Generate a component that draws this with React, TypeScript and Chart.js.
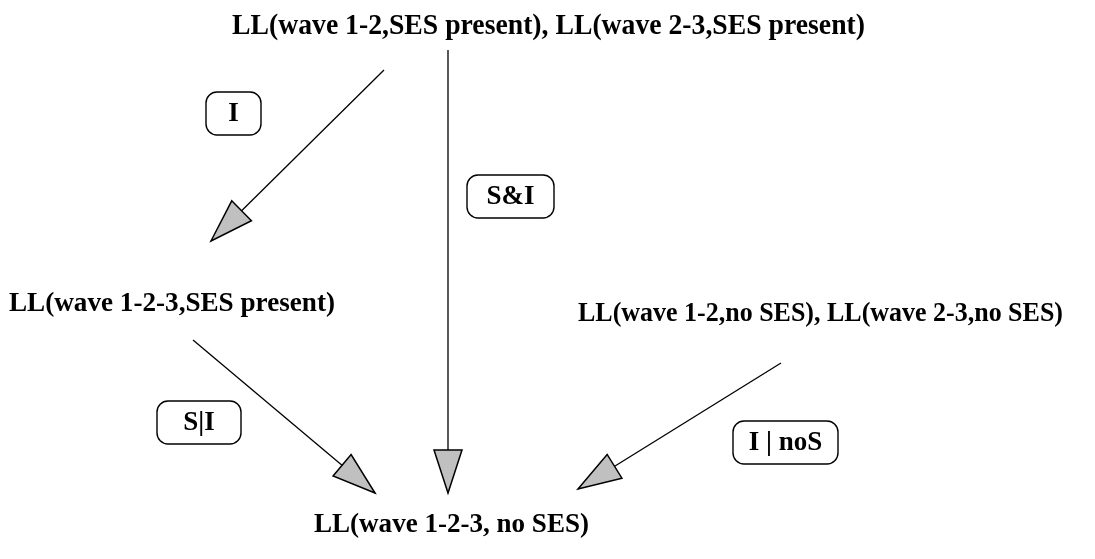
import { useEffect, useRef } from 'react';
import { Chart, registerables } from 'chart.js';

Chart.register(...registerables);

// Node (state) labels: left edge x, baseline y, fitted width
const nodeLabels = [
  'LL(wave 1-2,SES present), LL(wave 2-3,SES present)',
  'LL(wave 1-2-3,SES present)',
  'LL(wave 1-2,no SES), LL(wave 2-3,no SES)',
  'LL(wave 1-2-3, no SES)',
];
const nodeX = [232, 9, 578, 314];
const nodeY = [34, 311, 321, 532];
const nodeW = [633, 326, 485, 275];

// Edges (arrows): start and tip
const edgeStartX = [384, 448, 193, 781];
const edgeStartY = [70, 50, 340, 363];
const edgeEndX = [211, 448, 375, 578];
const edgeEndY = [241, 493, 493, 489];

// Edge test labels: box centre and width
const edgeLabels = ['I', 'S&I', 'S|I', 'I | noS'];
const labelX = [233.5, 510.5, 199, 785.5];
const labelY = [113.5, 196.5, 422.5, 442.5];
const labelW = [55, 87, 84, 105];

const FONT = 'bold 27px "Liberation Serif", "Times New Roman", serif';
const NODE_FONT = 'bold 28px "Liberation Serif", "Times New Roman", serif';
const TOP_FONT = 'bold 30px "Liberation Serif", "Times New Roman", serif';

const diagramPlugin = {
  id: 'diagram',
  afterDatasetsDraw(chart: any) {
    const { ctx } = chart;
    const xs = chart.scales.x;
    const ys = chart.scales.y;
    ctx.save();
    // arrowheads
    for (let i = 0; i < edgeEndX.length; i++) {
      const sx = xs.getPixelForValue(edgeStartX[i]);
      const sy = ys.getPixelForValue(edgeStartY[i]);
      const tx = xs.getPixelForValue(edgeEndX[i]);
      const ty = ys.getPixelForValue(edgeEndY[i]);
      const len = Math.hypot(tx - sx, ty - sy);
      const ux = (tx - sx) / len;
      const uy = (ty - sy) / len;
      const hl = 43;
      const hw = 14;
      const bx = tx - ux * hl;
      const by = ty - uy * hl;
      ctx.beginPath();
      ctx.moveTo(tx, ty);
      ctx.lineTo(bx - uy * hw, by + ux * hw);
      ctx.lineTo(bx + uy * hw, by - ux * hw);
      ctx.closePath();
      ctx.fillStyle = '#c0c0c0';
      ctx.fill();
      ctx.lineWidth = 1.5;
      ctx.strokeStyle = '#000';
      ctx.lineJoin = 'miter';
      ctx.stroke();
    }
    // label boxes
    ctx.font = FONT;
    ctx.textAlign = 'center';
    ctx.textBaseline = 'middle';
    for (let i = 0; i < edgeLabels.length; i++) {
      const cx = xs.getPixelForValue(labelX[i]);
      const cy = ys.getPixelForValue(labelY[i]);
      const w = labelW[i];
      const h = 43;
      ctx.beginPath();
      ctx.roundRect(cx - w / 2, cy - h / 2, w, h, 11);
      ctx.fillStyle = '#fff';
      ctx.fill();
      ctx.lineWidth = 1.4;
      ctx.strokeStyle = '#000';
      ctx.stroke();
      ctx.fillStyle = '#000';
      ctx.fillText(edgeLabels[i], cx, cy + 1);
    }
    // node labels
    ctx.textAlign = 'left';
    ctx.textBaseline = 'alphabetic';
    for (let i = 0; i < nodeLabels.length; i++) {
      ctx.font = i === 0 ? TOP_FONT : NODE_FONT;
      ctx.fillText(
        nodeLabels[i],
        xs.getPixelForValue(nodeX[i]),
        ys.getPixelForValue(nodeY[i]),
        nodeW[i]
      );
    }
    ctx.restore();
  },
};

export default function App() {
  const ref = useRef<HTMLCanvasElement | null>(null);
  useEffect(() => {
    document.body.style.margin = '0';
    if (!ref.current) return;
    const chart = new Chart(ref.current, {
      type: 'scatter',
      data: {
        datasets: edgeStartX.map((_, i) => ({
          data: [
            { x: edgeStartX[i], y: edgeStartY[i] },
            { x: edgeEndX[i], y: edgeEndY[i] },
          ],
          showLine: true,
          borderColor: '#000',
          borderWidth: 1.3,
          pointRadius: 0,
          pointHoverRadius: 0,
          clip: false as any,
        })),
      },
      options: {
        animation: false,
        responsive: false,
        devicePixelRatio: 1,
        events: [],
        layout: { padding: 0 },
        plugins: { legend: { display: false }, tooltip: { enabled: false } },
        scales: {
          x: { type: 'linear', min: 0, max: 1095, display: false },
          y: { type: 'linear', min: 0, max: 559, reverse: true, display: false },
        },
      },
      plugins: [diagramPlugin],
    });
    return () => chart.destroy();
  }, []);
  return (
    <div style={{ width: 1095, height: 559, background: '#fff' }}>
      <canvas ref={ref} width={1095} height={559} style={{ display: 'block' }} />
    </div>
  );
}
